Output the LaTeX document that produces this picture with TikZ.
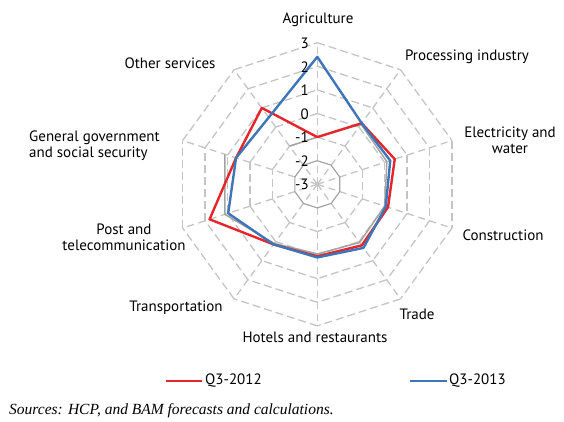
\documentclass[tikz,border=0pt]{standalone}
\usepackage{fontspec}
\setmainfont{PT Sans}
\newfontfamily\srcfont{Liberation Serif}
\definecolor{redq}{HTML}{E4262B}
\definecolor{blueq}{HTML}{3E74B8}
\definecolor{gridgray}{HTML}{C4C4C4}
\definecolor{datagray}{HTML}{A3A3A3}

\begin{document}
\begin{tikzpicture}
                \tikzset{x=1pt, y=1pt}
                \tikzstyle{lab}=[font=\fontsize{15}{16}\selectfont, inner sep=0pt]
                \tikzstyle{num}=[lab, anchor=east]
                \tikzstyle{spoke}=[draw=gridgray, line width=1.3pt, dash pattern=on 7pt off 4.8pt]
                \tikzstyle{ring}=[draw=gridgray, line width=1.3pt, dash pattern=on 8pt off 4pt]
                \tikzstyle{q12}=[draw=redq, line width=2.4pt, line join=round]
                \tikzstyle{q13}=[draw=blueq, line width=2.4pt, line join=round]

                \useasboundingbox (0,0) rectangle (564,421);

                % radar: one unit of x,y is one step of the scale
                \begin{scope}[shift={(317.3,236.7)}, x=23.6pt, y=23.6pt]
                    \foreach \a in {90,54,...,-234}
                        \draw[spoke] (0,0) -- (\a:6);
                    \foreach \k in {2,...,6}
                        \foreach \a in {90,54,...,-234}
                            \draw[ring] (\a:\k) -- (\a-36:\k);
                    \draw[datagray, line width=1.2pt] (90:1) -- (54:1) -- (18:1) -- (-18:1) -- (-54:1)
                        -- (-90:1) -- (-126:1) -- (-162:1) -- (162:1) -- (126:1) -- cycle;

                    % gray series (gap between 162 and 126)
                    \draw[datagray, line width=1.5pt, line join=round] (126:2) -- (90:2) -- (54:3.15) -- (18:3.1)
                        -- (-18:3.0) -- (-54:3.05) -- (-90:2.95) -- (-126:3.1) -- (-162:4.12) -- (162:4.12);

                    \draw[q12] (90:2) -- (54:3.2) -- (18:3.45) -- (-18:3.15) -- (-54:3.2)
                        -- (-90:3.05) -- (-126:3.15) -- (-162:4.8) -- (162:3.62) -- (126:4.0) -- cycle;
                    \draw[q13] (90:5.4) -- (54:3.2) -- (18:3.25) -- (-18:3.05) -- (-54:3.33)
                        -- (-90:3.1) -- (-126:3.15) -- (-162:3.97) -- (162:3.62) -- (126:3.5) -- cycle;
                \end{scope}

                % scale
                \draw (309, 378)    node[num]   (v3)    {3};
                \draw (309, 354)    node[num]   (v2)    {2};
                \draw (309, 331)    node[num]   (v1)    {1};
                \draw (309, 307)    node[num]   (v0)    {0};
                \draw (309, 284)    node[num]   (vm1)   {-1};
                \draw (309, 260)    node[num]   (vm2)   {-2};
                \draw (309, 237)    node[num]   (vm3)   {-3};

                % sectors
                \draw (318, 401)    node[lab]   (agri)  {Agriculture};
                \draw (467, 364)    node[lab]   (proc)  {Processing industry};
                \draw (510, 281)    node[lab, align=center] (elec) {Electricity and\\water};
                \draw (503, 186)    node[lab]   (cons)  {Construction};
                \draw (417, 107)    node[lab]   (trade) {Trade};
                \draw (315,  84)    node[lab]   (hotel) {Hotels and restaurants};
                \draw (176, 113)    node[lab]   (trans) {Transportation};
                \draw (124, 183.5)  node[lab, align=center] (post) {Post and\\telecommunication};
                \draw (29, 275.5)   node[lab, align=left, anchor=west] (gov) {General government\\and social security};
                \draw (170, 358)    node[lab]   (other) {Other services};

                % legend
                \coordinate         (k12)   at (166, 40);
                \coordinate         (k13)   at (410, 40);
                \draw (205, 40)     node[lab, anchor=west]  (l12)   {Q3-2012};
                \draw (449, 40)     node[lab, anchor=west]  (l13)   {Q3-2013};
                \draw [q12]         (k12) -- ([xshift=-3pt]l12.west);
                \draw [q13]         (k13) -- ([xshift=-2pt]l13.west);

                \draw (9, 10)       node[anchor=west, inner sep=0pt, font=\srcfont\itshape\fontsize{15.5}{17}\selectfont] (src)
                    {Sources: HCP, and BAM forecasts and calculations.};
            \end{tikzpicture}
\end{document}
